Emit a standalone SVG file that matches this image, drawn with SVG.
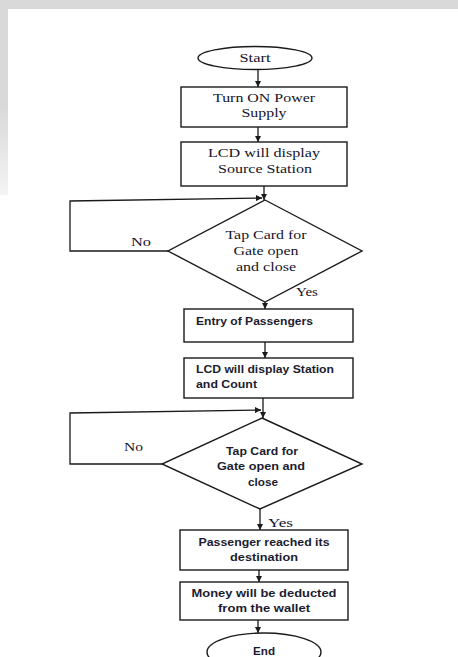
<svg xmlns="http://www.w3.org/2000/svg" width="458" height="657" viewBox="0 0 458 657">
<defs>
<marker id="ah" viewBox="0 0 10 10" refX="10" refY="5" markerWidth="6" markerHeight="6" markerUnits="userSpaceOnUse" orient="auto">
<path d="M0,0 L10,5 L0,10 z" fill="#1a1a1a"/>
</marker>
<linearGradient id="fade" x1="0" y1="0" x2="0" y2="1">
<stop offset="0" stop-color="#d9d9d9"/>
<stop offset="0.55" stop-color="#d9d9d9"/>
<stop offset="1" stop-color="#f4f4f4"/>
</linearGradient>
</defs>
<style>
.shape{fill:#fff;stroke:#1a1a1a;stroke-width:1.4}
.ln{fill:none;stroke:#1a1a1a;stroke-width:1.3}
.s{font-family:"Liberation Serif","Times New Roman",serif;font-size:13px;fill:#14142a}
.c{font-family:"Liberation Sans",Arial,sans-serif;font-size:10.5px;font-weight:bold;fill:#1c1c30}
</style>
<rect x="0" y="0" width="458" height="657" fill="#fff"/>
<rect x="0" y="0" width="458" height="9" fill="#d9d9d9"/>
<rect x="0" y="0" width="8" height="195" fill="url(#fade)"/>

<g id="connectors">
<line class="ln" x1="258" y1="70" x2="258" y2="87" marker-end="url(#ah)"/>
<line class="ln" x1="258" y1="127" x2="258" y2="142" marker-end="url(#ah)"/>
<line class="ln" x1="264" y1="186" x2="264" y2="200" marker-end="url(#ah)"/>
<polyline class="ln" points="168,251 70,251 70,201 262,198" marker-end="url(#ah)"/>
<line class="ln" x1="265" y1="302" x2="265" y2="309" marker-end="url(#ah)"/>
<line class="ln" x1="265" y1="342" x2="265" y2="358" marker-end="url(#ah)"/>
<line class="ln" x1="263" y1="398" x2="263" y2="418" marker-end="url(#ah)"/>
<polyline class="ln" points="162,464 70,464 70,413 261,410" marker-end="url(#ah)"/>
<line class="ln" x1="260" y1="509" x2="260" y2="530" marker-end="url(#ah)"/>
<line class="ln" x1="259" y1="570" x2="259" y2="582" marker-end="url(#ah)"/>
<line class="ln" x1="258" y1="620" x2="258" y2="633" marker-end="url(#ah)"/>
</g>

<g id="start">
<ellipse class="shape" cx="255" cy="58" rx="57" ry="11.5"/>
<text class="s" x="255" y="62" text-anchor="middle" textLength="31" lengthAdjust="spacingAndGlyphs">Start</text>
</g>
<g id="power">
<rect class="shape" x="181" y="87" width="166" height="40"/>
<text class="s" x="264" y="102" text-anchor="middle" textLength="102" lengthAdjust="spacingAndGlyphs">Turn ON Power</text>
<text class="s" x="264" y="117" text-anchor="middle" textLength="45" lengthAdjust="spacingAndGlyphs">Supply</text>
</g>
<g id="source">
<rect class="shape" x="181" y="142" width="166" height="44"/>
<text class="s" x="264" y="157" text-anchor="middle" textLength="112" lengthAdjust="spacingAndGlyphs">LCD will display</text>
<text class="s" x="265" y="173" text-anchor="middle" textLength="94" lengthAdjust="spacingAndGlyphs">Source Station</text>
</g>
<g id="tap1">
<polygon class="shape" points="265,200 362,251 265,302 168,251"/>
<text class="s" x="266" y="239" text-anchor="middle" textLength="81" lengthAdjust="spacingAndGlyphs">Tap Card for</text>
<text class="s" x="266" y="255" text-anchor="middle" textLength="65" lengthAdjust="spacingAndGlyphs">Gate open</text>
<text class="s" x="266" y="271" text-anchor="middle" textLength="60" lengthAdjust="spacingAndGlyphs">and close</text>
<text class="s" x="131" y="246" textLength="20" lengthAdjust="spacingAndGlyphs">No</text>
<text class="s" x="296" y="296" textLength="22" lengthAdjust="spacingAndGlyphs">Yes</text>
</g>
<g id="entry">
<rect class="shape" x="184" y="309" width="169" height="33"/>
<text class="c" x="196" y="325" textLength="117" lengthAdjust="spacingAndGlyphs">Entry of Passengers</text>
</g>
<g id="count">
<rect class="shape" x="184" y="358" width="169" height="40"/>
<text class="c" x="196" y="373" textLength="138" lengthAdjust="spacingAndGlyphs">LCD will display Station</text>
<text class="c" x="196" y="388" textLength="61" lengthAdjust="spacingAndGlyphs">and Count</text>
</g>
<g id="tap2">
<polygon class="shape" points="262,418 362,464 260,509 162,464"/>
<text class="c" x="262" y="455" text-anchor="middle" textLength="72" lengthAdjust="spacingAndGlyphs">Tap Card for</text>
<text class="c" x="261" y="470" text-anchor="middle" textLength="88" lengthAdjust="spacingAndGlyphs">Gate open and</text>
<text class="c" x="263" y="486" text-anchor="middle" textLength="30" lengthAdjust="spacingAndGlyphs">close</text>
<text class="s" x="124" y="451" textLength="19" lengthAdjust="spacingAndGlyphs">No</text>
<text class="s" x="268" y="527" textLength="25" lengthAdjust="spacingAndGlyphs">Yes</text>
</g>
<g id="reached">
<rect class="shape" x="180" y="530" width="168" height="40"/>
<text class="c" x="264" y="546" text-anchor="middle" textLength="131" lengthAdjust="spacingAndGlyphs">Passenger reached its</text>
<text class="c" x="264" y="561" text-anchor="middle" textLength="68" lengthAdjust="spacingAndGlyphs">destination</text>
</g>
<g id="money">
<rect class="shape" x="180" y="582" width="168" height="38"/>
<text class="c" x="264" y="597" text-anchor="middle" textLength="145" lengthAdjust="spacingAndGlyphs">Money will be deducted</text>
<text class="c" x="264" y="612" text-anchor="middle" textLength="92" lengthAdjust="spacingAndGlyphs">from the wallet</text>
</g>
<g id="end">
<ellipse class="shape" cx="264" cy="652" rx="57" ry="19"/>
<text class="c" x="264" y="655" text-anchor="middle" textLength="22" lengthAdjust="spacingAndGlyphs">End</text>
</g>
</svg>
